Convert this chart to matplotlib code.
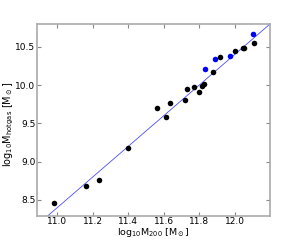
import matplotlib
matplotlib.use("Agg")
import matplotlib.pyplot as plt
import numpy as np

plt.rcParams['mathtext.default'] = 'regular'

black_x = [10.98, 11.162, 11.235, 11.398, 11.56, 11.616, 11.635, 11.72, 11.729,
           11.774, 11.80, 11.819, 11.830, 11.879, 11.917, 12.005, 12.050, 12.056, 12.110]
black_y = [8.455, 8.676, 8.755, 9.182, 9.70, 9.586, 9.773, 9.808, 9.948,
           9.974, 9.909, 9.995, 10.017, 10.178, 10.369, 10.452, 10.483, 10.491, 10.548]
blue_x = [11.836, 11.888, 11.975, 12.103]
blue_y = [10.209, 10.343, 10.383, 10.666]

fit_slope = 2.0
fit_intercept = -13.6
fit_x = [10.88, 12.2]

xticks = [11.0, 11.2, 11.4, 11.6, 11.8, 12.0]
yticks = [8.5, 9.0, 9.5, 10.0, 10.5]

fig = plt.figure(figsize=(3.0, 2.4), dpi=100)
ax = fig.add_axes([0.123, 0.1, 0.777, 0.8])

fx = np.array(fit_x)
ax.plot(fx, fit_slope * fx + fit_intercept, color='blue', lw=0.6, alpha=0.7, zorder=1)
ax.scatter(black_x, black_y, s=16, color='black', zorder=3, linewidths=0)
ax.scatter(blue_x, blue_y, s=16, color='blue', zorder=3, linewidths=0)

ax.set_xlim(10.885, 12.2)
ax.set_ylim(8.29, 10.8)
ax.set_xticks(xticks)
ax.set_yticks(yticks)
ax.set_xticklabels([f"{v:.1f}" for v in xticks])
ax.set_yticklabels([f"{v:.1f}" for v in yticks])
ax.tick_params(direction='in', length=3, width=0.8, color='#888888',
               labelsize=6.5, top=True, right=True, pad=1)
for s in ax.spines.values():
    s.set_color('#aaaaaa')
    s.set_linewidth(1.2)

fig.text(0.51, 0.03, r'log$_{10}$M$_{200}$ [M$_\odot$]', fontsize=6.8,
         ha='center', va='center')
fig.text(0.03, 0.48, r'log$_{10}$M$_{hotgas}$ [M$_\odot$]', fontsize=7,
         ha='center', va='center', rotation=90)

fig.savefig('out.png', dpi=100)
